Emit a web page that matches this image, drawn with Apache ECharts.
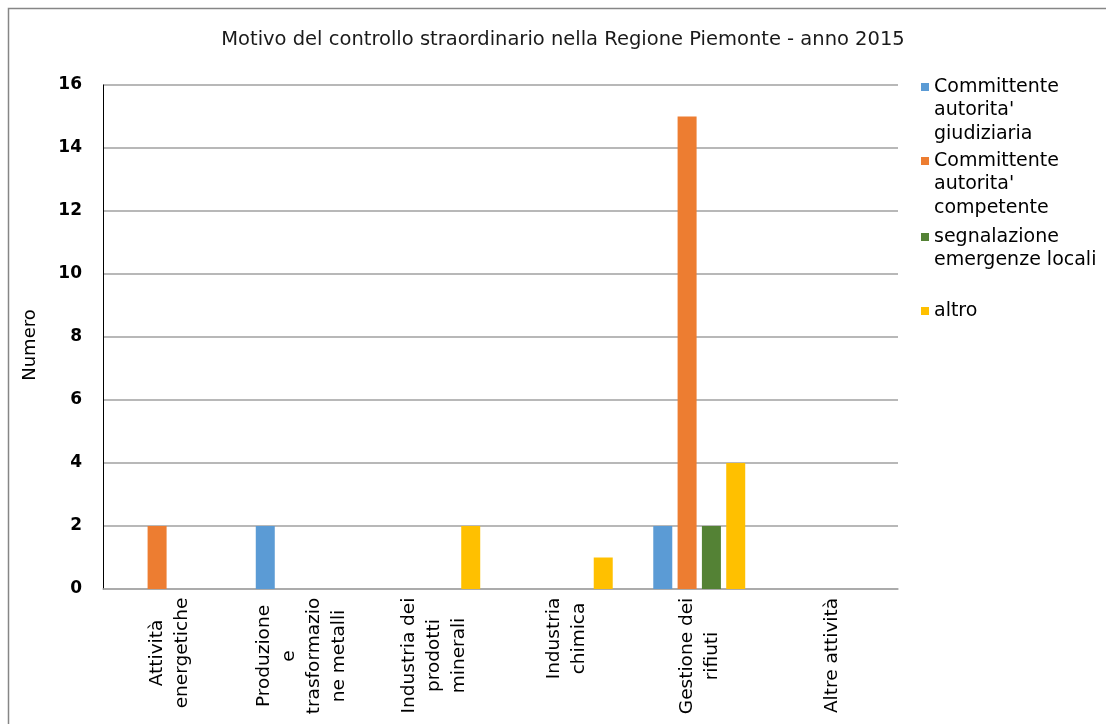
<!DOCTYPE html>
<html>
<head>
<meta charset="utf-8">
<script src="https://cdn.jsdelivr.net/npm/echarts@6/dist/echarts.min.js"></script>
<style>
html,body{margin:0;padding:0;background:#fff;}
#chart{width:1106px;height:724px;}
</style>
</head>
<body>
<div id="chart"></div>
<script>
// ---- data ----
const titleText = "Motivo del controllo straordinario nella Regione Piemonte - anno 2015";
const categories = [
  "Attività\nenergetiche",
  "Produzione\ne\ntrasformazio\nne metalli",
  "Industria dei\nprodotti\nminerali",
  "Industria\nchimica",
  "Gestione dei\nrifiuti",
  "Altre attività"
];
const seriesNames = [
  "Committente\nautorita'\ngiudiziaria",
  "Committente\nautorita'\ncompetente",
  "segnalazione\nemergenze locali",
  "altro"
];
const valGiudiziaria = [0, 2, 0, 0, 2, 0];
const valCompetente  = [2, 0, 0, 0, 15, 0];
const valSegnalazione = [0, 0, 0, 0, 2, 0];
const valAltro       = [0, 0, 2, 1, 4, 0];
const yMin = 0, yMax = 16, yStep = 2;
const yAxisName = "Numero";

// ---- styling ----
const FONT = "DejaVu Sans";
const colors = ["#5B9BD5", "#ED7D31", "#548235", "#FFC000"];
const seriesValues = [valGiudiziaria, valCompetente, valSegnalazione, valAltro];

// measure label lines to center them inside a rotated block
const catFontSize = 18.5;
const cv = document.createElement("canvas").getContext("2d");
cv.font = catFontSize + "px '" + FONT + "'";
const rich = {};
categories.forEach((c, i) => {
  const w = Math.max(...c.split("\n").map(l => cv.measureText(l).width));
  rich["w" + i] = { width: Math.ceil(w) + 1, align: "center", fontSize: catFontSize, fontFamily: FONT, color: "#000", lineHeight: 25 };
});

// legend: one component per item; leading blank lines put the icon on the first text line
const legLH = 23.5;
const legendFirstLineY = [87, 161, 237, 311];
const legends = seriesNames.map((n, i) => {
  const lines = n.split("\n").length;
  return {
    data: [n],
    left: 921,
    top: legendFirstLineY[i] - (2 * lines - 1) * legLH / 2,
    orient: "vertical",
    padding: 0,
    itemWidth: 8,
    itemHeight: 8,
    icon: "rect",
    selectedMode: false,
    formatter: name => "\n".repeat(lines - 1) + name,
    textStyle: { fontFamily: FONT, fontSize: 19, color: "#000", lineHeight: legLH }
  };
});

const chart = echarts.init(document.getElementById("chart"), null, { renderer: "canvas" });
chart.setOption({
  animation: false,
  backgroundColor: "#fff",
  title: {
    text: titleText,
    left: 558,
    textAlign: "center",
    top: 25,
    textStyle: { fontFamily: FONT, fontSize: 19.5, fontWeight: "normal", color: "#1a1a1a" }
  },
  graphic: [{
    type: "rect",
    shape: { x: 8.5, y: 8.5, width: 1300, height: 900 },
    style: { fill: "none", stroke: "#868686", lineWidth: 1.5 },
    silent: true, z: -1
  }],
  legend: legends,
  grid: { left: 103, right: 208, top: 85, bottom: 135, containLabel: false },
  xAxis: {
    type: "category",
    data: categories,
    axisLine: { show: true, lineStyle: { color: "#a6a6a6", width: 1.5 } },
    axisTick: { show: false },
    axisLabel: {
      interval: 0,
      rotate: 90,
      margin: 8,
      formatter: (v, i) => v.split("\n").map(l => "{w" + i + "|" + l + "}").join("\n"),
      rich: rich
    }
  },
  yAxis: {
    type: "value",
    min: yMin, max: yMax, interval: yStep,
    name: yAxisName,
    nameLocation: "middle",
    nameRotate: 90,
    nameGap: 64,
    nameTextStyle: { fontFamily: FONT, fontSize: 18, color: "#000", padding: [0, 16, 0, 0] },
    axisLine: { show: true, lineStyle: { color: "#000", width: 1 } },
    axisTick: { show: false },
    axisLabel: { margin: 21, fontFamily: FONT, fontSize: 17, fontWeight: "bold", color: "#000" },
    splitLine: { show: true, lineStyle: { color: "#a0a0a0", width: 1.5 } }
  },
  series: seriesNames.map((n, i) => ({
    name: n,
    type: "bar",
    data: seriesValues[i],
    barWidth: 19,
    barGap: "28%",
    itemStyle: { color: colors[i] }
  }))
});
</script>
</body>
</html>
